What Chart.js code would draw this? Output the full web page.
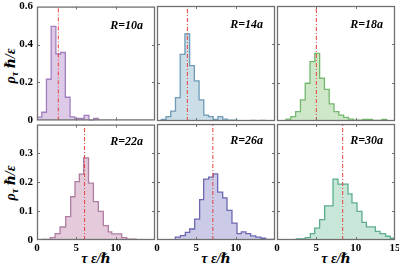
<!DOCTYPE html>
<html>
<head>
<meta charset="utf-8">
<script src="https://cdn.jsdelivr.net/npm/chart.js@4.4.0/dist/chart.umd.min.js"></script>
<style>
html, body { margin: 0; padding: 0; background: #fff; width: 399px; height: 265px; overflow: hidden; }
canvas { position: absolute; }
.lab { position: absolute; font-family: "Liberation Serif", "DejaVu Serif", serif; font-weight: bold; font-style: italic;
       font-size: 14px; white-space: nowrap; transform: translate(-50%, -50%); color: #000; }
.lab.y { transform: translate(-50%, -50%) rotate(-90deg); }
.lab sub { font-size: 10px; vertical-align: -3px; }
</style>
</head>
<body>
<div class="lab y" style="left:11px; top:66px">ρ<sub>τ</sub> ℏ/ε</div>
<div class="lab y" style="left:11px; top:183px">ρ<sub>τ</sub> ℏ/ε</div>
<div class="lab" style="left:96px; top:258px">τ ε/ℏ</div>
<div class="lab" style="left:216px; top:258px">τ ε/ℏ</div>
<div class="lab" style="left:336px; top:258px">τ ε/ℏ</div>

<script>
// histogram bins (edges) and densities
const radii = ['10', '14', '18', '22', '26', '30'];
const means = [2.71, 3.86, 5.0, 6.05, 7.1, 8.35];

const edgesR10 = [0, 0.6, 1.2, 1.8, 2.4, 3.0, 3.6, 4.2, 4.8, 5.4, 6.0, 6.6, 7.2, 7.8];
const densR10 = [0.017, 0.043, 0.217, 0.496, 0.350, 0.358, 0.122, 0.019, 0.010, 0.010, 0.026, 0, 0.010];

const edgesR14 = [0.55, 1.15, 1.75, 2.35, 2.95, 3.55, 4.15, 4.75, 5.35, 5.95, 6.55, 7.15, 7.75, 8.35, 8.95, 9.55, 10.15, 10.75, 11.35, 11.95, 12.55, 13.15, 13.75];
const densR14 = [0.009, 0.023, 0.052, 0.122, 0.348, 0.454, 0.289, 0.209, 0.110, 0.031, 0.023, 0.009, 0.023, 0.010, 0.005, 0.005, 0, 0, 0, 0.003, 0, 0.003];

const edgesR18 = [1.15, 1.76, 2.37, 2.98, 3.59, 4.20, 4.81, 5.42, 6.03, 6.64, 7.25, 7.86, 8.47, 9.08, 9.69, 10.30, 10.91, 11.52, 12.13, 12.74, 13.35, 13.96];
const densR18 = [0.010, 0.023, 0.049, 0.110, 0.197, 0.310, 0.353, 0.223, 0.165, 0.089, 0.049, 0.031, 0.019, 0.010, 0.005, 0.005, 0.009, 0.009, 0.003, 0.003, 0.009];

const edgesR22 = [0.6, 1.7, 2.3, 2.93, 3.65, 4.28, 4.83, 5.38, 5.93, 6.55, 7.17, 7.8, 8.43, 9.06, 9.5, 10.76, 11.4, 12.6, 14.5];
const densR22 = [0.002, 0.008, 0.022, 0.045, 0.081, 0.150, 0.202, 0.228, 0.285, 0.197, 0.133, 0.099, 0.050, 0.028, 0.021, 0.008, 0.003, 0.001];

const edgesR26 = [0.6, 2.33, 2.97, 3.6, 4.15, 4.79, 5.42, 5.93, 6.57, 7.15, 7.71, 8.35, 8.9, 9.53, 10.17, 10.72, 11.3, 11.9, 12.55, 13.2, 13.8, 14.8];
const densR26 = [0.001, 0.010, 0.015, 0.026, 0.038, 0.072, 0.139, 0.210, 0.217, 0.228, 0.165, 0.145, 0.102, 0.058, 0.022, 0.028, 0.022, 0.014, 0.010, 0.006, 0.002];

const edgesR30 = [0.3, 1.7, 2.46, 3.6, 4.24, 4.79, 5.42, 6.06, 7.12, 7.75, 8.39, 9.03, 9.53, 10.17, 10.8, 11.36, 11.93, 12.5, 13.1, 13.8, 14.4, 15];
const densR30 = [0.0015, 0, 0.004, 0.008, 0.022, 0.041, 0.070, 0.118, 0.210, 0.193, 0.193, 0.159, 0.128, 0.099, 0.061, 0.045, 0.045, 0.030, 0.022, 0.013, 0.006];

const xTicks = [0, 5, 10, 15];
const yTicksTop = [0, 0.2, 0.4, 0.6];
const yTicksBottom = [0, 0.1, 0.2, 0.3];

const allEdges = [edgesR10, edgesR14, edgesR18, edgesR22, edgesR26, edgesR30];
const allDens = [densR10, densR14, densR18, densR22, densR26, densR30];

const fills = ['#dccae6', '#cbdde7', '#cee7c9', '#e4cadb', '#cbcbe8', '#c9e7d9'];
const lines = ['#a47ec1', '#6f9bb6', '#74b86d', '#b07ca2', '#6c68b2', '#5cae8e'];

// panel placement
const panelLeft = [37, 157, 277];
const panelRight = [155, 275, 395];
const rowTop = [6, 124];
const rowBottom = [121, 240];
const margin = 10;

const tickFont = { family: '"Liberation Serif", "DejaVu Serif", serif', size: 11, weight: 'bold' };

function stepPoints(edges, dens) {
    var pts = [{ x: edges[0], y: 0 }];
    dens.forEach((d, i) => pts.push({ x: edges[i], y: d }));
    pts.push({ x: edges[edges.length - 1], y: 0 });
    return pts;
}

// frame, inward tick marks and the R label
const framePlugin = {
    id: 'frame',
    afterDatasetsDraw(chart, args, opts) {
        var ctx = chart.ctx, a = chart.chartArea;
        var xs = chart.scales.x, ys = chart.scales.y;
        ctx.save();
        ctx.strokeStyle = '#707070';
        ctx.lineWidth = 1;
        ctx.beginPath();
        opts.yTicks.forEach(v => {
            if (v <= 0 || v >= ys.max) return;
            var y = Math.round(ys.getPixelForValue(v)) + 0.5;
            ctx.moveTo(a.left, y); ctx.lineTo(a.left + 3, y);
            ctx.moveTo(a.right, y); ctx.lineTo(a.right - 3, y);
        });
        xTicks.forEach(v => {
            if (v <= 0 || v >= 15) return;
            var x = Math.round(xs.getPixelForValue(v)) + 0.5;
            ctx.moveTo(x, a.top); ctx.lineTo(x, a.top + 3);
            ctx.moveTo(x, a.bottom); ctx.lineTo(x, a.bottom - 3);
        });
        ctx.stroke();
        ctx.lineWidth = 1.3;
        ctx.strokeRect(a.left + 0.5, a.top + 0.5, a.right - a.left - 1, a.bottom - a.top - 1);
        ctx.fillStyle = '#000';
        ctx.font = 'italic bold 12px "Liberation Serif", "DejaVu Serif", serif';
        ctx.textAlign = 'right';
        ctx.textBaseline = 'middle';
        ctx.fillText('R=' + opts.r + 'a', a.right - 12, a.top + opts.labelDy);
        ctx.restore();
    }
};

for (let i = 0; i < 6; i++) {
    const col = i % 3, row = Math.floor(i / 3);
    const ymax = row === 0 ? 0.6 : 0.4;
    const yTicks = row === 0 ? yTicksTop : yTicksBottom;
    const showX = row === 1, showY = col === 0;

    const cLeft = showY ? 0 : panelLeft[col] - margin;
    const cTop = rowTop[row] - margin;
    const cW = panelRight[col] + margin - cLeft;
    const cH = showX ? 265 - cTop : rowBottom[row] + margin - cTop;

    const canvas = document.createElement('canvas');
    canvas.width = cW; canvas.height = cH;
    canvas.style.left = cLeft + 'px'; canvas.style.top = cTop + 'px';
    canvas.style.width = cW + 'px'; canvas.style.height = cH + 'px';
    document.body.appendChild(canvas);

    new Chart(canvas.getContext('2d'), {
        type: 'line',
        data: {
            datasets: [{
                data: [{ x: means[i], y: 0 }, { x: means[i], y: ymax }],
                borderColor: '#e8413a',
                borderWidth: 1,
                borderDash: [4, 2, 1, 2],
                pointRadius: 0,
                fill: false,
                order: 0
            }, {
                data: stepPoints(allEdges[i], allDens[i]),
                stepped: 'before',
                borderColor: lines[i],
                backgroundColor: fills[i],
                borderWidth: 1.3,
                pointRadius: 0,
                fill: 'origin',
                order: 1
            }]
        },
        options: {
            responsive: false,
            animation: false,
            devicePixelRatio: 1,
            layout: { padding: { left: showY ? 0 : margin, right: margin, top: margin, bottom: showX ? 0 : margin } },
            plugins: {
                legend: { display: false },
                tooltip: { enabled: false },
                frame: { yTicks: yTicks, r: radii[i], labelDy: row === 0 ? 19 : 17 }
            },
            scales: {
                x: {
                    type: 'linear',
                    min: 0, max: 15,
                    display: showX,
                    afterFit: s => { s.height = showX ? 25 : 0; },
                    grid: { display: false, drawTicks: false },
                    border: { display: false },
                    afterBuildTicks: s => { s.ticks = xTicks.map(v => ({ value: v })); },
                    ticks: {
                        display: showX,
                        font: tickFont, color: '#000', padding: 2, maxRotation: 0, autoSkip: false,
                        callback: v => (v === 15 && col < 2) ? '' : String(v)
                    }
                },
                y: {
                    type: 'linear',
                    min: 0, max: ymax,
                    display: showY,
                    afterFit: s => { s.width = showY ? 37 : 0; },
                    grid: { display: false, drawTicks: false },
                    border: { display: false },
                    afterBuildTicks: s => { s.ticks = yTicks.map(v => ({ value: v })); },
                    ticks: {
                        display: showY,
                        font: tickFont, color: '#000', padding: 4,
                        callback: v => String(v)
                    }
                }
            }
        },
        plugins: [framePlugin]
    });
}
</script>
</body>
</html>
